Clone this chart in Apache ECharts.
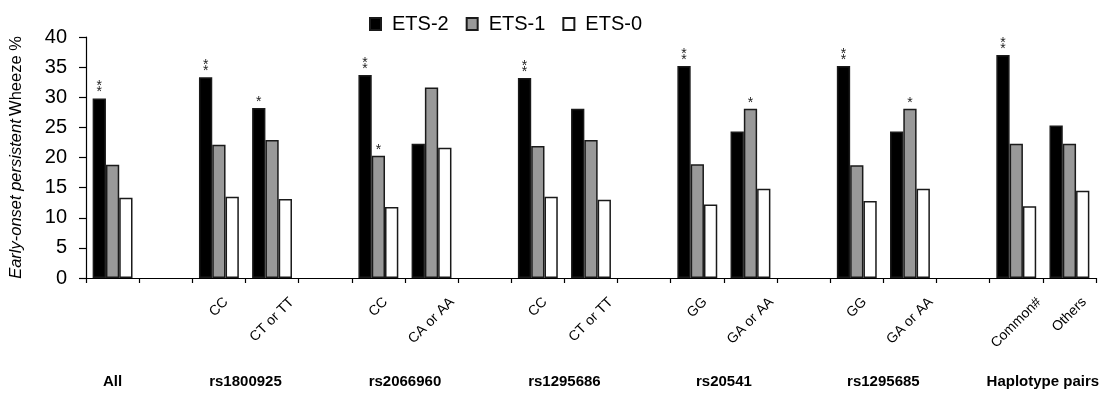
<!DOCTYPE html>
<html>
<head>
<meta charset="utf-8">
<script src="https://cdn.jsdelivr.net/npm/echarts@6/dist/echarts.min.js"></script>
<style>
html,body{margin:0;padding:0;background:#fff;}
#chart{width:1114px;height:395px;}
</style>
</head>
<body>
<div id="chart"></div>
<script>
// ---- data ----
const categories = ['', '', 'CC', 'CT or TT', '', 'CC', 'CA or AA', '', 'CC', 'CT or TT', '', 'GG', 'GA or AA', '', 'GG', 'GA or AA', '', 'Common#', 'Others'];
const ets2 = [29.8, null, 33.3, 28.2, null, 33.7, 22.3, null, 33.2, 28.1, null, 35.2, 24.3, null, 35.2, 24.3, null, 37.0, 25.3];
const ets1 = [18.8, null, 22.1, 22.9, null, 20.3, 31.6, null, 21.9, 22.9, null, 18.9, 28.1, null, 18.7, 28.1, null, 22.3, 22.3];
const ets0 = [13.3, null, 13.5, 13.1, null, 11.8, 21.6, null, 13.5, 13.0, null, 12.2, 14.8, null, 12.8, 14.8, null, 11.9, 14.5];
const sig2 = ['**', '', '**', '*', '', '**', '', '', '**', '', '', '**', '', '', '**', '', '', '**', ''];
const sig1 = ['', '', '', '', '', '*', '', '', '', '', '', '', '*', '', '', '*', '', '', ''];
const sig0 = ['', '', '', '', '', '', '', '', '', '', '', '', '', '', '', '', '', '', ''];
// groups: name and first/last category index they cover
const groupNames = ['All', 'rs1800925', 'rs2066960', 'rs1295686', 'rs20541', 'rs1295685', 'Haplotype pairs'];
const groupFirst = [0, 2, 5, 8, 11, 14, 17];
const groupLast  = [0, 3, 6, 9, 12, 15, 18];
const seriesNames = ['ETS-2', 'ETS-1', 'ETS-0'];
const yTicks = [0, 40, 5];

// ---- build ----
const FONT = "'Liberation Sans', Arial, sans-serif";
const catFontSize = 14;
const ctx = document.createElement('canvas').getContext('2d');
ctx.font = catFontSize + "px 'Liberation Sans', Arial, sans-serif";
const catData = categories.map(c => {
  const w = c ? ctx.measureText(c).width : 0;
  const h = catFontSize;
  return {
    value: c,
    textStyle: {
      align: 'center', verticalAlign: 'top',
      fontSize: catFontSize, color: '#000', fontFamily: FONT,
      // centre each rotated label under its category (Excel-style)
      padding: c ? [w / 4, w / 2 + h, 0, 0] : 0
    }
  };
});
// half-unit positions for group labels (boundaryGap:false, 2*N+1 slots)
const groupSlots = new Array(categories.length * 2 + 1).fill('');
groupNames.forEach((g, i) => {
  const center = (groupFirst[i] + groupLast[i] + 1) / 2;
  groupSlots[Math.round(center * 2)] = g;
});

const fills = ['#000000', '#999999', '#ffffff'];
const sigs = [sig2, sig1, sig0];
const vals = [ets2, ets1, ets0];

const chart = echarts.init(document.getElementById('chart'), null, { renderer: 'canvas' });
chart.setOption({
  animation: false,
  backgroundColor: '#ffffff',
  textStyle: { fontFamily: FONT, color: '#000' },
  legend: {
    top: 9,
    left: 364,
    icon: 'rect',
    itemWidth: 11,
    itemHeight: 12,
    itemGap: 17,
    textStyle: { fontSize: 20, color: '#000', fontFamily: FONT, padding: [0, 0, 0, 6] },
    data: seriesNames
  },
  grid: { left: 86, right: 18, top: 37, bottom: 117, containLabel: false },
  xAxis: [{
    type: 'category',
    data: catData,
    boundaryGap: true,
    axisLine: { show: true, lineStyle: { color: '#000', width: 1.2 } },
    axisTick: { show: true, length: 5, interval: 0, lineStyle: { color: '#000', width: 1.2 } },
    axisLabel: {
      interval: 0, rotate: 45, align: 'center', verticalAlign: 'top',
      margin: 12, fontSize: catFontSize, color: '#000', fontFamily: FONT
    },
    splitLine: { show: false }
  }, {
    type: 'category',
    data: groupSlots,
    boundaryGap: false,
    position: 'bottom',
    gridIndex: 0,
    axisLine: { show: false },
    axisTick: { show: false },
    splitLine: { show: false },
    axisLabel: { interval: 0, margin: 96, fontSize: 15, fontWeight: 'bold', color: '#000', fontFamily: FONT }
  }],
  yAxis: {
    type: 'value',
    min: yTicks[0], max: yTicks[1], interval: yTicks[2],
    name: '{i|Early-onset persistent} {n|Wheeze %}',
    nameLocation: 'middle',
    nameGap: 61,
    nameTextStyle: {
      rich: {
        i: { fontStyle: 'italic', fontSize: 16.5, color: '#000', fontFamily: FONT },
        n: { fontSize: 16.5, color: '#000', fontFamily: FONT }
      }
    },
    axisLine: { show: true, lineStyle: { color: '#000', width: 1.2 } },
    axisTick: { show: true, length: 7, lineStyle: { color: '#000', width: 1.2 } },
    axisLabel: { fontSize: 20, color: '#000', margin: 19, fontFamily: FONT },
    splitLine: { show: false }
  },
  series: seriesNames.map((n, si) => ({
    name: n,
    type: 'bar',
    xAxisIndex: 0,
    data: vals[si],
    barWidth: '25%',
    barGap: '0%',
    itemStyle: { color: fills[si], borderColor: '#1a1a1a', borderWidth: 1.5 },
    label: {
      show: true,
      position: 'top',
      distance: 3,
      fontSize: 14,
      lineHeight: 6,
      color: '#222',
      formatter: p => (sigs[si][p.dataIndex] || '').split('').join('\n')
    }
  }))
});
</script>
</body>
</html>
